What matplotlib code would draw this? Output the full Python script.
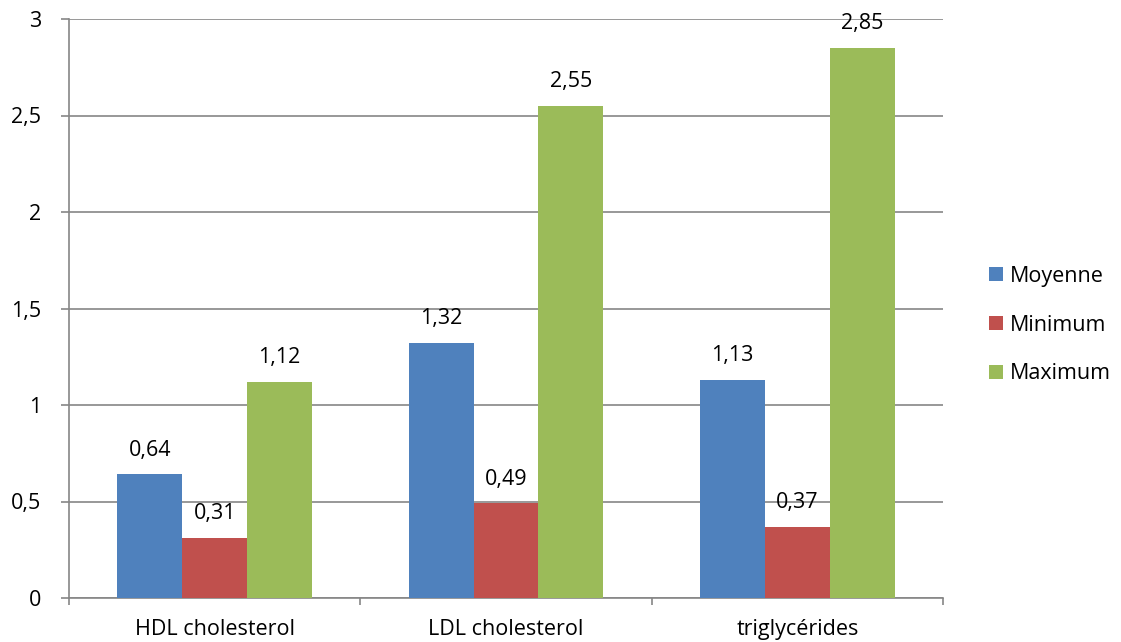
import matplotlib
matplotlib.use("Agg")
import matplotlib.pyplot as plt
import numpy as np

# valeurs du graphique
categories = ["HDL cholesterol", "LDL cholesterol", "triglycérides"]
moyenne = [0.64, 1.32, 1.13]
minimum = [0.31, 0.49, 0.37]
maximum = [1.12, 2.55, 2.85]
series = ["Moyenne", "Minimum", "Maximum"]
couleurs = ["#4F81BD", "#C0504D", "#9BBB59"]
yticks = [0, 0.5, 1, 1.5, 2, 2.5, 3]

plt.rcParams['font.family'] = ['Open Sans', 'DejaVu Sans']
fs = 15.5

fig = plt.figure(figsize=(11.21, 6.42), dpi=100)
ax = fig.add_axes([69/1121, 1 - 598/642, (943 - 69)/1121, (598 - 19)/642])

x = np.arange(len(categories))
w = 0.223
gris = "#868686"

for i, (nom, vals) in enumerate(zip(series, [moyenne, minimum, maximum])):
    pos = x + (i - 1) * w
    ax.bar(pos, vals, w, color=couleurs[i], label=nom, zorder=3)
    for p, v in zip(pos, vals):
        ax.annotate(("%.2f" % v).replace(".", ","), (p, v), xytext=(0, 10),
                    textcoords="offset points", ha="center", va="bottom",
                    fontsize=fs)

ax.set_xlim(-0.5, 2.5)
ax.set_ylim(0, 3)
ax.set_yticks(yticks)
ax.set_yticklabels([("%g" % t).replace(".", ",") for t in yticks], fontsize=fs)
ax.yaxis.grid(True, color=gris, linewidth=1.2, zorder=0)

# graduations de l'axe x entre les catégories
ax.set_xticks([-0.5, 0.5, 1.5, 2.5])
ax.set_xticklabels([])
ax.set_xticks(x, minor=True)
ax.set_xticklabels(categories, minor=True, fontsize=fs)
ax.tick_params(axis="x", which="minor", length=0, pad=15)
ax.tick_params(axis="x", which="major", length=5, color=gris, width=1.2)
ax.tick_params(axis="y", length=6, color=gris, width=1.2, pad=14)

for s in ["top", "right"]:
    ax.spines[s].set_visible(False)
for s in ["left", "bottom"]:
    ax.spines[s].set_color(gris)
    ax.spines[s].set_linewidth(1.2)

ax.legend(loc="center left", bbox_to_anchor=(1.030, 0.4715), frameon=False,
          fontsize=fs, handlelength=0.65, handleheight=0.65, handletextpad=0.35,
          labelspacing=1.3)

fig.savefig("out.png", dpi=100)
